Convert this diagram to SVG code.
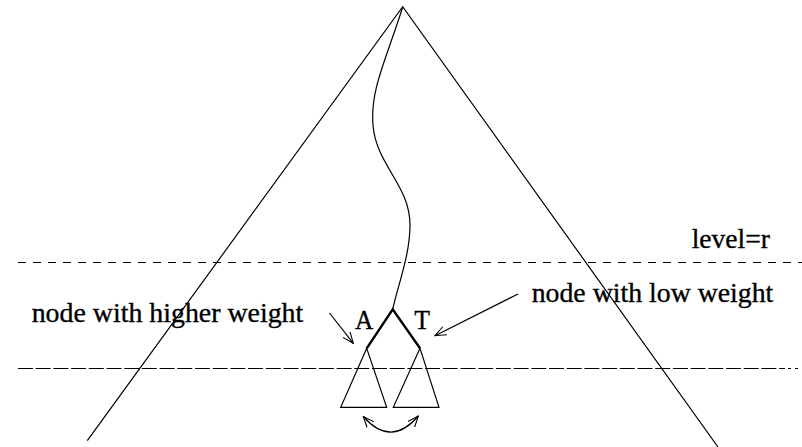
<svg xmlns="http://www.w3.org/2000/svg" width="802" height="447" viewBox="0 0 802 447">
<style>
.ln{fill:none;stroke:#000;stroke-width:1.2}
.dl{fill:none;stroke:#000;stroke-width:1}
.thick{fill:none;stroke:#000;stroke-width:2.4}
.t{font-family:"Liberation Serif","Times New Roman",serif;font-size:28px;fill:#000;stroke:#000;stroke-width:0.35}
</style>
<defs>
<marker id="ah" viewBox="0 0 12 10" refX="11" refY="5" markerWidth="12" markerHeight="10" markerUnits="userSpaceOnUse" orient="auto">
<path d="M0,0.5 L11,5 L0,9.5" fill="none" stroke="#000" stroke-width="1.1"/>
</marker>
<marker id="ahs" viewBox="0 0 12 10" refX="11" refY="5" markerWidth="12" markerHeight="10" markerUnits="userSpaceOnUse" orient="auto-start-reverse">
<path d="M0,0.5 L11,5 L0,9.5" fill="none" stroke="#000" stroke-width="1.1"/>
</marker>
</defs>
<rect width="802" height="447" fill="#fff"/>
<g id="big-tree">
<path class="ln" d="M87.3,440.7 L402.7,6.7 L718,447"/>
</g>
<g id="levels">
<line class="dl" x1="18" y1="262.5" x2="802" y2="262.5" stroke-dasharray="8 7"/>
<line class="dl" x1="18" y1="368.5" x2="785" y2="368.5" stroke-dasharray="15 2.7"/>
<line class="dl" x1="788" y1="368.5" x2="791" y2="368.5"/>
<line class="dl" x1="795" y1="368.5" x2="798" y2="368.5"/>
</g>
<g id="connectors">
<path class="ln" d="M402.7,7 C386,60 370,90 373,125 C376,165 410,185 410,225 C410,255 398,285 392.7,309.3"/>
<line class="ln" x1="329.5" y1="313" x2="353.3" y2="343.3" marker-end="url(#ah)"/>
<line class="ln" x1="518" y1="294" x2="435" y2="335.7" marker-end="url(#ah)"/>
<path class="ln" d="M363.3,416.5 Q391,448 418.3,416" marker-start="url(#ahs)" marker-end="url(#ah)"/>
</g>
<g id="node-pair">
<path class="thick" d="M366.7,348.3 L392.7,309.3 L420,348.3"/>
</g>
<g id="subtree-A">
<path class="ln" d="M366.7,348.3 L340.7,407.3 L386.7,407.3 Z"/>
</g>
<g id="subtree-T">
<path class="ln" d="M420,348.3 L393.3,407.3 L439,407.3 Z"/>
</g>
<g id="labels">
<text class="t" x="355" y="329.3" textLength="18.3" lengthAdjust="spacingAndGlyphs">A</text>
<text class="t" x="414.3" y="329.3" textLength="15.7" lengthAdjust="spacingAndGlyphs">T</text>
<text class="t" x="31.7" y="321.7" textLength="271.6" lengthAdjust="spacingAndGlyphs">node with higher weight</text>
<text class="t" x="531.7" y="302.3" textLength="241.6" lengthAdjust="spacingAndGlyphs">node with low weight</text>
<text class="t" x="691.7" y="248.3" textLength="78.3" lengthAdjust="spacingAndGlyphs">level=r</text>
</g>
</svg>
